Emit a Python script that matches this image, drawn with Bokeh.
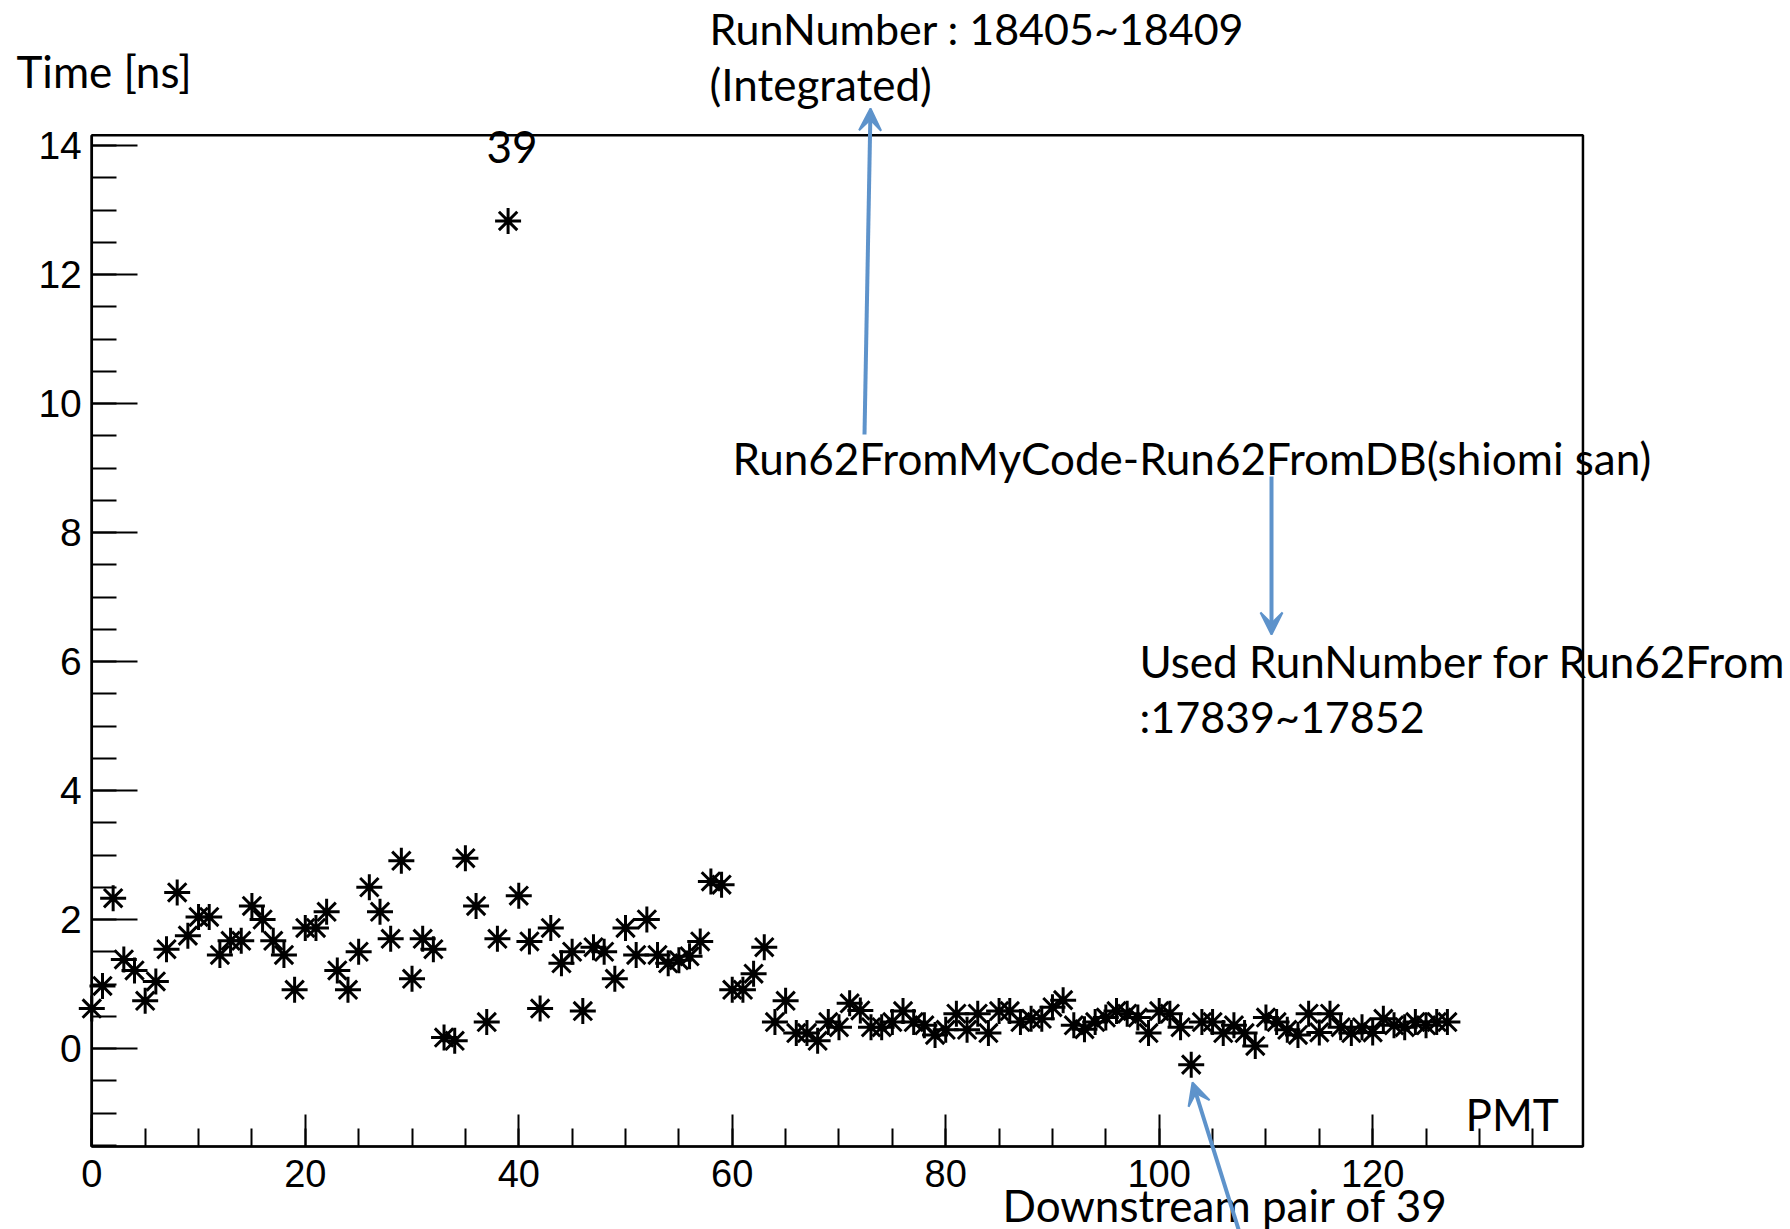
from bokeh.plotting import figure
from bokeh.models import (Range1d, Label, Arrow, VeeHead, FixedTicker, ColumnDataSource,
                          LinearAxis, BoxAnnotation)
from bokeh.embed import file_html
from bokeh.resources import INLINE

# ---- data ----
pmt = list(range(128))
time_ns = [
    0.62, 0.97, 2.33, 1.38, 1.21, 0.74, 1.04, 1.54, 2.42, 1.75,
    2.04, 2.04, 1.45, 1.67, 1.67, 2.21, 2.00, 1.67, 1.45, 0.91,
    1.87, 1.87, 2.12, 1.21, 0.91, 1.50, 2.50, 2.12, 1.70, 2.91,
    1.08, 1.70, 1.54, 0.17, 0.12, 2.95, 2.21, 0.41, 1.70, 12.83,
    2.37, 1.66, 0.62, 1.87, 1.32, 1.50, 0.58, 1.57, 1.50, 1.08,
    1.87, 1.45, 2.00, 1.45, 1.32, 1.37, 1.43, 1.66, 2.59, 2.54,
    0.91, 0.91, 1.16, 1.57, 0.41, 0.74, 0.24, 0.24, 0.12, 0.41,
    0.33, 0.70, 0.59, 0.33, 0.33, 0.41, 0.58, 0.41, 0.36, 0.21,
    0.29, 0.54, 0.29, 0.54, 0.24, 0.58, 0.58, 0.41, 0.46, 0.46,
    0.64, 0.75, 0.36, 0.30, 0.41, 0.48, 0.58, 0.54, 0.48, 0.24,
    0.58, 0.54, 0.33, -0.25, 0.41, 0.41, 0.24, 0.36, 0.24, 0.04,
    0.48, 0.41, 0.29, 0.21, 0.54, 0.25, 0.54, 0.33, 0.24, 0.33,
    0.25, 0.46, 0.36, 0.33, 0.41, 0.36, 0.41, 0.41,
]
x_ticks = [0, 20, 40, 60, 80, 100, 120]
y_ticks = [0, 2, 4, 6, 8, 10, 12, 14]
x_axis_span = (0, 139.7)
y_axis_span = (-1.52, 14.16)

# ---- canvas / scale layout (pixels of the picture) ----
W, H = 1790, 1229
X0, XS = 91.3, 10.674      # pixel of x=0, pixels per unit
Y0, YS = 1048.0, 64.5      # pixel of y=0, pixels per unit

p = figure(width=W, height=H, output_backend="svg", toolbar_location=None,
           x_range=Range1d(-X0 / XS, (W - X0) / XS),
           y_range=Range1d((Y0 - H) / YS, Y0 / YS),
           x_axis_location=None, y_axis_location=None, min_border=0)
p.grid.visible = False
p.outline_line_color = None
p.background_fill_color = "white"
p.border_fill_color = "white"

xaxis = LinearAxis(fixed_location=y_axis_span[0], bounds=x_axis_span,
                   ticker=FixedTicker(ticks=x_ticks, minor_ticks=list(range(0, 140, 5))))
yaxis = LinearAxis(fixed_location=x_axis_span[0], bounds=y_axis_span,
                   ticker=FixedTicker(ticks=y_ticks, minor_ticks=[v * 0.5 for v in range(-3, 29)]))
for ax in (xaxis, yaxis):
    ax.axis_line_width = 2
    ax.major_tick_line_width = 2
    ax.minor_tick_line_width = 2
    ax.major_tick_out = 0
    ax.minor_tick_out = 0
    ax.major_label_text_font = "Liberation Sans"
    ax.major_label_text_color = "black"
xaxis.major_tick_in = 32
xaxis.minor_tick_in = 18
yaxis.major_tick_in = 46
yaxis.minor_tick_in = 25
xaxis.major_label_text_font_size = "38px"
yaxis.major_label_text_font_size = "39px"
xaxis.major_label_standoff = 13
yaxis.major_label_standoff = 10
p.add_layout(xaxis, "below")
p.add_layout(yaxis, "left")

# frame box
p.add_layout(BoxAnnotation(left=x_axis_span[0], right=x_axis_span[1],
                           bottom=y_axis_span[0], top=y_axis_span[1],
                           fill_alpha=0, line_color="black", line_alpha=1.0, line_width=2.5))

src = ColumnDataSource(dict(x=pmt, y=time_ns))
p.scatter("x", "y", source=src, marker="asterisk", size=26, line_color="black", line_width=3)

# ---- annotations (positions given in pixels of the picture) ----
def dx(px):
    return (px - X0) / XS

def dy(py):
    return (Y0 - py) / YS

FONT = "Lato"
FS = "44px"

def add_text(txt, px, py, fs=FS):
    p.add_layout(Label(x=dx(px), y=dy(py), text=txt, text_font=FONT, text_font_size=fs,
                       text_color="black", text_baseline="middle", text_align="left"))

add_text("RunNumber : 18405~18409", 709, 28, "43px")
add_text("(Integrated)", 709, 83)
add_text("Time [ns]", 16, 70)
add_text("39", 486, 146)
add_text("Run62FromMyCode-Run62FromDB(shiomi san)", 732, 457)
add_text("Used RunNumber for Run62From", 1139, 660)
add_text(":17839~17852", 1139, 716, "43px")
add_text("PMT", 1465, 1113)
add_text("Downstream pair of 39", 1002, 1204)

BLUE = "#5E93CB"

def add_arrow(x0, y0, x1, y1):
    p.add_layout(Arrow(x_start=dx(x0), y_start=dy(y0), x_end=dx(x1), y_end=dy(y1),
                       line_color=BLUE, line_width=4,
                       end=VeeHead(size=22, fill_color=BLUE, line_color=BLUE, line_width=2)))

add_arrow(864, 434, 870, 108)
add_arrow(1271, 476, 1271, 634)
add_arrow(1239, 1232, 1192, 1082)

open("out.html", "w").write(file_html(p, INLINE))
